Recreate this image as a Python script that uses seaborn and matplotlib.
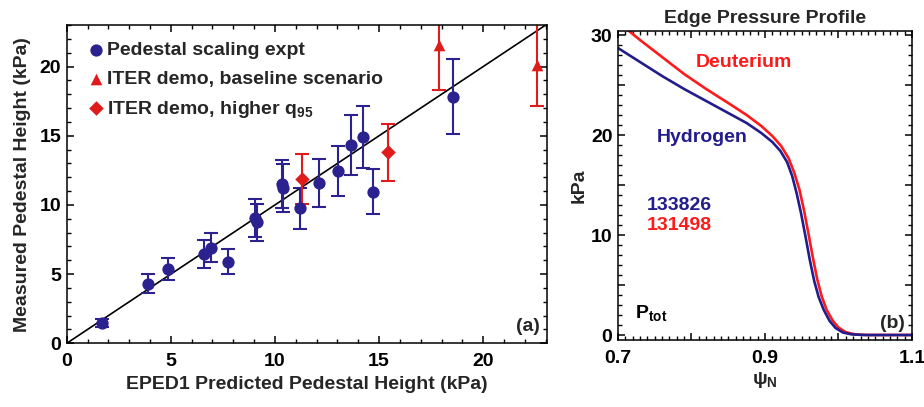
import numpy as np
import pandas as pd
import matplotlib
matplotlib.use("Agg")
import matplotlib.pyplot as plt
from matplotlib.ticker import MultipleLocator, FixedLocator
import seaborn as sns

# ---------------- data ----------------
# Panel (a): pedestal scaling experiment
expt_pred = [1.68, 3.89, 4.88, 6.59, 6.91, 7.76, 9.04, 9.12, 10.32, 10.40, 11.20, 12.11, 13.01, 13.63, 14.24, 14.69, 18.53]
expt_meas = [1.45, 4.29, 5.37, 6.44, 6.91, 5.90, 9.05, 8.75, 11.52, 11.20, 9.76, 11.57, 12.46, 14.34, 14.89, 10.96, 17.83]
expt_err = [0.30, 0.69, 0.83, 1.00, 1.07, 0.90, 1.35, 1.33, 1.75, 1.73, 1.49, 1.74, 1.82, 2.15, 2.23, 1.63, 2.70]

# ITER demo, baseline scenario
base_pred = [17.86, 22.56]
base_meas = [21.57, 20.12]
base_err = [3.25, 3.00]

# ITER demo, higher q95
q95_pred = [11.28, 15.44]
q95_meas = [11.86, 13.81]
q95_err = [1.81, 2.05]

# Panel (b): edge pressure profiles
psi_D = [0.700, 0.730, 0.760, 0.790, 0.820, 0.850, 0.875, 0.895, 0.910, 0.922, 0.932,
         0.940, 0.947, 0.953, 0.959, 0.965, 0.971, 0.977, 0.984, 0.992, 1.000,
         1.010, 1.022, 1.040, 1.100]
p_D = [31.3, 29.5, 27.8, 26.1, 24.6, 23.2, 22.0, 20.9, 19.9, 18.9, 17.7,
       16.2, 14.5, 12.5, 10.2, 7.8, 5.6, 3.9, 2.5, 1.45, 0.75,
       0.28, 0.07, 0.0, 0.0]
psi_H = [0.700, 0.730, 0.760, 0.790, 0.820, 0.850, 0.875, 0.895, 0.910, 0.921, 0.930,
         0.937, 0.943, 0.949, 0.955, 0.961, 0.967, 0.973, 0.980, 0.988, 0.996,
         1.006, 1.018, 1.035, 1.100]
p_H = [28.7, 27.3, 25.9, 24.6, 23.4, 22.2, 21.2, 20.2, 19.3, 18.4, 17.3,
       15.9, 14.2, 12.2, 9.9, 7.5, 5.4, 3.8, 2.5, 1.4, 0.7,
       0.25, 0.06, 0.0, 0.0]

# ---------------- style ----------------
sns.set_theme(style="ticks")
FONT = ["Liberation Sans", "DejaVu Sans"]
plt.rcParams.update({
    "font.family": FONT,
    "font.weight": "bold",
    "axes.labelweight": "bold",
    "axes.titleweight": "bold",
    "mathtext.fontset": "custom",
    "mathtext.rm": "Liberation Sans:bold",
    "mathtext.it": "Liberation Sans:bold",
    "mathtext.bf": "Liberation Sans:bold",
    "mathtext.default": "rm",
    "axes.linewidth": 1.1,
    "xtick.direction": "in",
    "ytick.direction": "in",
    "xtick.top": True,
    "ytick.right": True,
    "xtick.major.size": 5,
    "ytick.major.size": 5,
    "xtick.minor.size": 2.8,
    "ytick.minor.size": 2.8,
    "xtick.major.width": 1.1,
    "ytick.major.width": 1.1,
    "xtick.minor.width": 1.0,
    "ytick.minor.width": 1.0,
    "xtick.color": "black",
    "ytick.color": "black",
    "axes.edgecolor": "black",
})

BLUE = "#2B2290"
RED = "#E01B1B"
CBLUE = "#231C8C"
CRED = "#FF1A1A"
FS = 14

fig = plt.figure(figsize=(9.24, 4.07), dpi=100)
axA = fig.add_axes([0.0722, 0.1565, 0.5195, 0.782])
axB = fig.add_axes([0.6688, 0.1646, 0.3182, 0.7592])

# ---------------- panel (a) ----------------
axA.axline((0, 0), slope=1, color="black", lw=1.2, zorder=1)

ebkw = dict(fmt="none", elinewidth=1.5, capsize=4.7, capthick=1.5, zorder=2)
axA.errorbar(expt_pred, expt_meas, yerr=expt_err, ecolor=BLUE, **ebkw)
axA.errorbar(base_pred, base_meas, yerr=base_err, ecolor=RED, **ebkw)
axA.errorbar(q95_pred, q95_meas, yerr=q95_err, ecolor=RED, **ebkw)

df_e = pd.DataFrame({"x": expt_pred, "y": expt_meas})
df_b = pd.DataFrame({"x": base_pred, "y": base_meas})
df_q = pd.DataFrame({"x": q95_pred, "y": q95_meas})
sns.scatterplot(data=df_e, x="x", y="y", ax=axA, marker="o", s=78, color=BLUE,
                edgecolor=BLUE, linewidth=0, label="Pedestal scaling expt", zorder=3)
sns.scatterplot(data=df_b, x="x", y="y", ax=axA, marker="^", s=70, color=RED,
                edgecolor=RED, linewidth=0, label="ITER demo, baseline scenario", zorder=3)
sns.scatterplot(data=df_q, x="x", y="y", ax=axA, marker="D", s=55, color=RED,
                edgecolor=RED, linewidth=0, label="ITER demo, higher q$_{95}$", zorder=3)

axA.set_xlim(0, 23.05)
axA.set_ylim(0, 23.0)
axA.xaxis.set_major_locator(MultipleLocator(5))
axA.xaxis.set_minor_locator(MultipleLocator(1))
axA.yaxis.set_major_locator(MultipleLocator(5))
axA.yaxis.set_minor_locator(MultipleLocator(1))
axA.tick_params(axis="x", which="major", labelsize=FS, pad=7)
axA.tick_params(axis="y", which="major", labelsize=FS, pad=4)
axA.set_xlabel("EPED1 Predicted Pedestal Height (kPa)", fontsize=FS, labelpad=4,
               fontweight="bold")
axA.set_ylabel("Measured Pedestal Height (kPa)", fontsize=FS, labelpad=6,
               fontweight="bold")
axA.text(0.985, 0.025, "(a)", transform=axA.transAxes, ha="right", va="bottom",
         fontsize=FS, fontweight="bold")
leg = axA.legend(loc="upper left", bbox_to_anchor=(0.046, 0.948), frameon=False,
                 prop={"size": FS, "weight": "bold"}, handlelength=0.7,
                 handletextpad=0.22, labelspacing=0.56, borderaxespad=0.0,
                 borderpad=0.0)

# ---------------- panel (b) ----------------
df_D = pd.DataFrame({"psi": psi_D, "p": p_D})
df_H = pd.DataFrame({"psi": psi_H, "p": p_H})
sns.lineplot(data=df_D, x="psi", y="p", ax=axB, color=CRED, lw=1.9, sort=False)
sns.lineplot(data=df_H, x="psi", y="p", ax=axB, color=CBLUE, lw=1.9, sort=False)

axB.set_xlim(0.7, 1.1)
axB.set_ylim(-0.5, 30.4)
axB.xaxis.set_major_locator(FixedLocator([0.7, 0.8, 0.9, 1.0, 1.1]))
axB.xaxis.set_minor_locator(MultipleLocator(0.01))
axB.set_xticklabels(["0.7", "", "0.9", "", "1.1"])
axB.yaxis.set_major_locator(FixedLocator([0, 5, 10, 15, 20, 25, 30]))
axB.yaxis.set_minor_locator(MultipleLocator(1))
axB.set_yticklabels(["0", "", "10", "", "20", "", "30"])
axB.tick_params(axis="x", which="major", labelsize=FS, pad=7)
axB.tick_params(axis="y", which="major", labelsize=FS, pad=4)
axB.set_xlabel("ψ$_{N}$", fontsize=FS, labelpad=2, fontweight="bold")
axB.set_ylabel("kPa", fontsize=FS, labelpad=2, fontweight="bold")
axB.text(0.5, 1.012, "Edge Pressure Profile", transform=axB.transAxes,
         ha="center", va="bottom", fontsize=FS, fontweight="heavy")

axB.text(0.871, 27.3, "Deuterium", color=CRED, fontsize=FS, ha="center", va="center",
         fontweight="bold")
axB.text(0.814, 19.8, "Hydrogen", color=CBLUE, fontsize=FS, ha="center", va="center",
         fontweight="bold")
axB.text(0.739, 13.0, "133826", color=CBLUE, fontsize=FS, ha="left", va="center",
         fontweight="bold")
axB.text(0.739, 11.0, "131498", color=CRED, fontsize=FS, ha="left", va="center",
         fontweight="bold")
axB.text(0.723, 2.2, "P$_{tot}$", color="black", fontsize=FS, ha="left", va="center",
         fontweight="bold")
axB.text(0.975, 0.025, "(b)", transform=axB.transAxes, ha="right", va="bottom",
         fontsize=FS, fontweight="bold")

fig.savefig("out.png", dpi=100)
